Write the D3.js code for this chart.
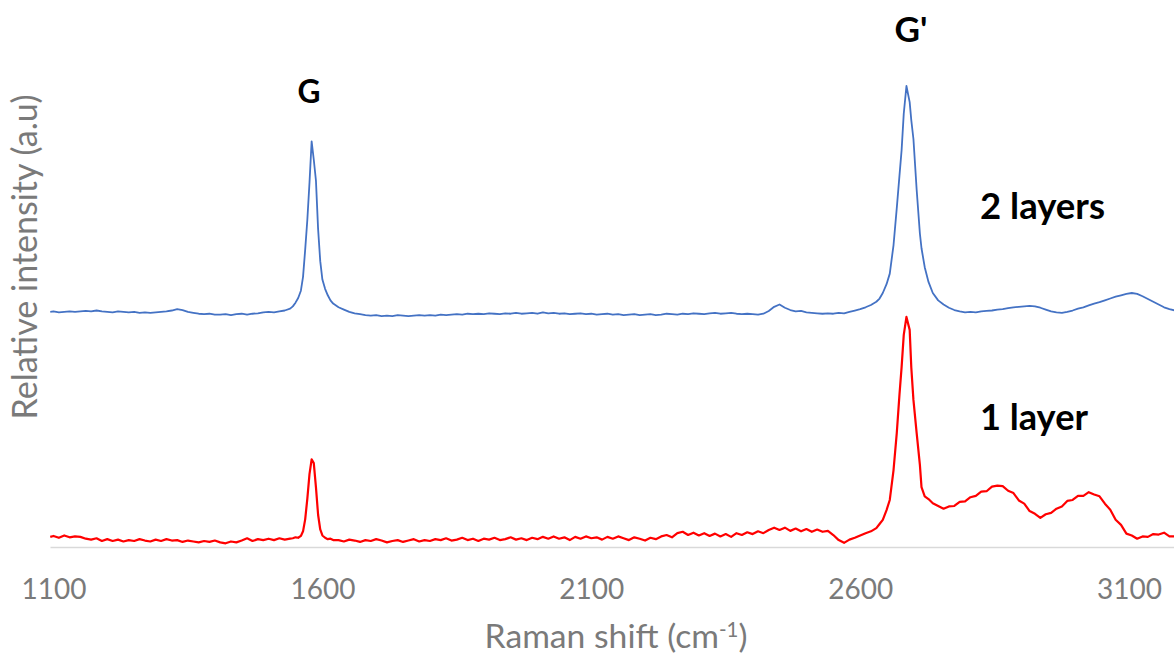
<!DOCTYPE html>
<html>
<head>
<meta charset="utf-8">
<script src="https://cdn.jsdelivr.net/npm/d3@7/dist/d3.min.js"></script>
<style>
  html, body { margin: 0; padding: 0; background: #ffffff; }
  svg { display: block; }
</style>
</head>
<body>
<svg id="chart" width="1174" height="657"></svg>
<script>
// ---------------- DATA ----------------
const ramanShift = [
  1094,1100,1110,1120,1130,1140,1150,1160,1170,1180,
  1190,1200,1210,1220,1230,1240,1250,1260,1270,1280,
  1290,1300,1310,1320,1330,1340,1350,1360,1370,1380,
  1390,1400,1410,1420,1430,1440,1450,1460,1470,1480,
  1490,1500,1510,1520,1530,1540,
  1545,1550,1555,1560,1564,1568,1572,1576,1580,1584,1588,1592,1596,1600,1605,1610,1615,1620,
  1630,1640,1650,1660,1670,1680,1690,1700,1710,1720,
  1730,1740,1750,1760,1770,1780,1790,1800,1810,1820,
  1830,1840,1850,1860,1870,1880,1890,1900,1910,1920,
  1930,1940,1950,1960,1970,1980,1990,2000,2010,2020,
  2030,2040,2050,2060,2070,2080,2090,2100,2110,2120,
  2130,2140,2150,2160,2170,2180,2190,2200,2210,2220,
  2230,2240,2250,2260,2270,2280,2290,2300,2310,2320,
  2330,2340,2350,2360,2370,2380,2390,2400,2410,2420,
  2430,2440,2450,2460,2470,2480,2490,2500,2510,2520,
  2530,2540,2550,2560,2570,2580,2590,2600,2610,2620,
  2630,
  2636,2642,2649,2655,2662,2668,2673,2677,2681,2686,2692,2695,2699,2705,2711,2714,2720,2727,2735,
  2745,2755,2765,2775,2785,2795,2805,2815,2825,2835,
  2845,2855,2865,2875,2885,2895,2905,2915,2925,2935,
  2945,2955,2965,2975,2985,2995,3005,3015,3025,3035,
  3045,3055,3065,3075,3085,3095,3105,3115,3125,3135,
  3145,3155,3165,3175,3185
];

const oneLayer = [
  2.2,2.4,2.0,2.5,2.1,2.3,2.2,1.8,1.6,1.9,
  1.3,1.7,1.3,1.6,1.2,1.5,1.3,1.7,1.4,1.2,
  1.6,1.3,1.7,1.4,1.5,1.1,1.4,1.2,1.0,1.3,
  1.1,1.4,1.0,0.8,1.2,1.0,1.4,1.9,1.3,1.7,
  1.5,1.8,1.5,1.9,1.6,1.8,
  1.9,2.1,2.0,2.4,3.4,6.0,10.5,15.8,19.0,18.2,13.0,7.0,3.8,2.5,2.0,1.7,1.8,1.5,
  1.5,1.2,1.6,1.4,1.1,1.5,1.3,1.7,1.4,1.0,
  1.3,1.5,1.1,1.4,1.7,1.2,1.5,1.3,1.7,1.5,
  1.9,1.4,1.6,2.0,1.5,1.8,1.3,1.8,1.6,2.0,
  1.5,1.7,2.1,1.6,1.9,1.5,2.0,1.7,2.2,1.8,
  2.3,1.8,2.1,1.5,2.2,1.8,2.3,1.9,2.1,1.6,
  2.2,1.8,2.3,1.9,1.5,2.1,1.8,1.4,2.0,1.7,
  2.3,2.6,2.1,3.0,3.3,2.6,3.1,2.5,3.0,2.4,
  2.9,2.3,2.8,2.2,3.0,2.6,3.2,2.8,3.4,3.0,
  3.7,4.2,3.7,4.2,3.5,4.0,3.4,3.9,3.3,3.8,
  3.3,3.5,2.6,1.5,0.9,1.6,2.0,2.5,3.0,3.4,
  4.1,
  5.0,5.9,8.0,10.2,16.7,24.7,33.0,39.0,46.0,49.9,47.1,39.0,31.9,24.7,17.8,13.0,11.0,10.4,9.5,
  8.9,8.3,8.8,8.9,9.8,9.9,10.8,11.1,12.0,12.1,
  13.1,13.3,13.2,12.2,11.7,10.1,9.4,7.8,7.2,6.3,
  7.1,7.4,8.3,8.8,10.0,10.2,11.1,11.1,11.9,11.4,
  11.0,9.4,8.1,5.9,4.8,2.9,2.5,1.8,2.3,2.2,
  2.8,2.7,3.1,2.3,2.3
];

const twoLayers = [
  51.0,51.1,50.9,51.0,51.1,51.0,51.1,51.2,51.1,51.3,
  51.1,51.0,50.9,51.1,51.0,50.9,51.0,50.8,50.9,50.8,
  50.9,51.0,51.1,51.3,51.6,51.4,51.0,50.8,50.6,50.5,
  50.6,50.4,50.4,50.5,50.3,50.5,50.6,50.4,50.6,50.7,
  50.9,51.0,50.9,51.1,51.3,51.7,
  52.2,53.0,54.0,55.6,58.6,64.5,71.0,79.0,88.0,84.0,79.5,69.0,62.0,58.0,56.0,54.6,53.5,52.8,
  52.0,51.5,51.0,50.7,50.5,50.3,50.2,50.3,50.1,50.2,
  50.1,50.3,50.2,50.1,50.2,50.3,50.2,50.3,50.2,50.4,
  50.3,50.4,50.5,50.4,50.6,50.5,50.6,50.5,50.7,50.6,
  50.5,50.7,50.6,50.8,50.6,50.7,50.8,50.6,50.9,50.7,
  50.8,50.6,50.7,50.5,50.6,50.7,50.5,50.6,50.4,50.5,
  50.6,50.4,50.5,50.3,50.4,50.5,50.3,50.4,50.5,50.3,
  50.4,50.6,50.5,50.4,50.6,50.5,50.7,50.6,50.5,50.7,
  50.8,50.6,50.7,50.8,50.6,50.5,50.6,50.5,50.4,50.6,
  51.2,52.1,52.6,51.9,51.4,51.1,51.2,50.9,50.8,50.7,
  50.6,50.7,50.6,50.8,50.7,51.0,51.3,51.6,52.0,52.5,
  53.2,
  53.9,55.1,57.0,59.3,65.5,73.5,80.5,86.1,94.0,100.0,96.5,92.6,88.5,77.5,68.0,64.8,60.7,57.5,55.1,
  53.5,52.6,51.9,51.4,51.1,50.9,51.0,50.9,51.1,51.2,
  51.3,51.5,51.6,51.8,52.0,52.1,52.2,52.3,52.2,51.9,
  51.5,51.1,50.9,50.8,51.0,51.3,51.7,52.0,52.4,52.8,
  53.1,53.5,53.9,54.3,54.6,54.9,55.1,54.9,54.4,53.8,
  53.2,52.6,52.0,51.6,51.3
];

const xTickValues = [1100, 1600, 2100, 2600, 3100];
const xDomain = [1093.5, 3183.5];
const yDomain = [0, 100];
const peakLabels = ["G", "G'"];
const seriesLabels = ["2 layers", "1 layer"];
const xTitle = "Raman shift (cm";
const xTitleSup = "-1";
const yTitle = "Relative intensity (a.u)";

// ---------------- CHART ----------------
const svg = d3.select("#chart");
svg.append("rect").attr("width", 1174).attr("height", 657).attr("fill", "#ffffff");

const x = d3.scaleLinear().domain(xDomain).range([50, 1174]);
const y = d3.scaleLinear().domain(yDomain).range([547, 86]);

svg.append("defs").append("clipPath").attr("id", "plotClip")
  .append("rect").attr("x", 50).attr("y", 0).attr("width", 1124).attr("height", 560);

const FONT = "Lato, 'Open Sans', sans-serif";
const GREY = "#7a7a7a";

function fitWidth(sel, target) {
  const node = sel.node();
  const fs = parseFloat(sel.attr("font-size"));
  const w = node.getComputedTextLength();
  if (w > 0) sel.attr("font-size", (fs * target / w).toFixed(2));
}

// x axis
const xAxis = d3.axisBottom(x).tickValues(xTickValues).tickSize(0).tickFormat(d3.format("d"));
const gx = svg.append("g").attr("transform", "translate(0,547)").call(xAxis);
gx.select(".domain").attr("stroke", "#d9d9d9").attr("stroke-width", 1.5);
gx.selectAll("text")
  .attr("fill", GREY).attr("font-family", FONT).attr("font-size", 28)
  .attr("y", 52).attr("dy", 0);
const firstTick = gx.select(".tick text");
fitWidth(firstTick, 65);
const tickFs = firstTick.attr("font-size");
gx.selectAll("text").attr("font-size", tickFs);

// x title
const xt = svg.append("text")
  .attr("x", 616).attr("y", 648).attr("text-anchor", "middle")
  .attr("fill", GREY).attr("font-family", FONT).attr("font-size", 28);
xt.append("tspan").text(xTitle);
xt.append("tspan").text(xTitleSup).attr("dy", -11).attr("font-size", 17);
xt.append("tspan").text(")").attr("dy", 11);
{
  const w = xt.node().getComputedTextLength();
  const s = 263 / w;
  xt.attr("font-size", (28 * s).toFixed(2));
  xt.selectAll("tspan").filter((d, i) => i === 1).attr("font-size", (17 * s).toFixed(2));
}

// y title
const yt = svg.append("text")
  .attr("transform", "translate(37,257) rotate(-90)")
  .attr("text-anchor", "middle")
  .attr("fill", GREY).attr("font-family", FONT).attr("font-size", 28)
  .text(yTitle);
fitWidth(yt, 325);

// lines
const line = d3.line().x(d => x(d[0])).y(d => y(d[1]));
const redData = ramanShift.map((s, i) => [s, oneLayer[i]]).filter(d => d[1] !== undefined);
const blueData = ramanShift.map((s, i) => [s, twoLayers[i]]).filter(d => d[1] !== undefined);

const plot = svg.append("g").attr("clip-path", "url(#plotClip)");
plot.append("path").datum(blueData)
  .attr("d", line).attr("fill", "none")
  .attr("stroke", "#4472C4").attr("stroke-width", 1.8).attr("stroke-linejoin", "round");
plot.append("path").datum(redData)
  .attr("d", line).attr("fill", "none")
  .attr("stroke", "#FF0000").attr("stroke-width", 2.2).attr("stroke-linejoin", "round");

// annotations
function label(txt, xx, yy, anchor, width) {
  const t = svg.append("text").attr("x", xx).attr("y", yy).attr("text-anchor", anchor)
    .attr("font-family", FONT).attr("font-weight", "bold").attr("font-size", 28)
    .attr("fill", "#000000").text(txt);
  fitWidth(t, width);
  return t;
}
label(peakLabels[0], 309, 103, "middle", 23);
label(peakLabels[1], 911, 42, "middle", 33);
label(seriesLabels[0], 980, 219, "start", 125);
label(seriesLabels[1], 980, 430, "start", 108);
</script>
</body>
</html>
